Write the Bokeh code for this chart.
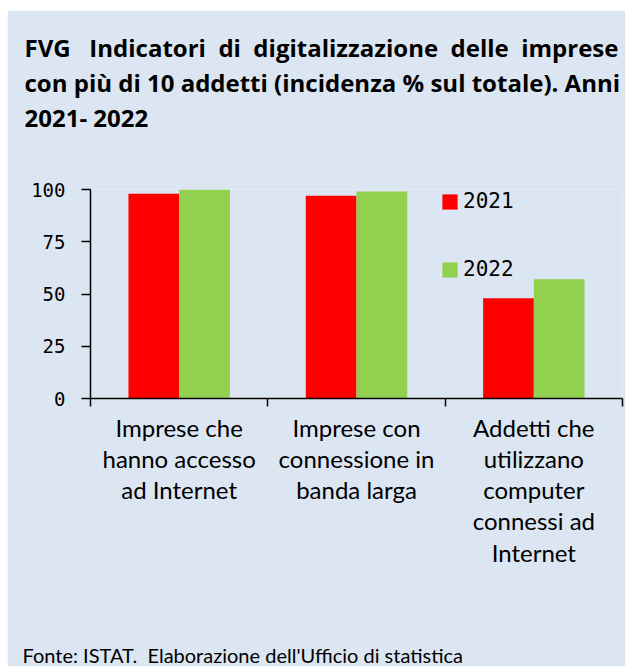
from bokeh.plotting import figure
from bokeh.layouts import column
from bokeh.models import Range1d, FixedTicker, LinearAxis, Legend, LegendItem, Title
from bokeh.embed import file_html
from bokeh.resources import INLINE

# ---- data ----
categories = [
    "Imprese che\nhanno accesso\nad Internet",
    "Imprese con\nconnessione in\nbanda larga",
    "Addetti che\nutilizzano\ncomputer\nconnessi ad\nInternet",
]
years = ["2021", "2022"]
values_2021 = [98, 97, 48]
values_2022 = [100, 99, 57]
y_ticks = [0, 25, 50, 75, 100]
title_line1 = ["FVG", "Indicatori", "di", "digitalizzazione", "delle", "imprese"]
title_line2 = "con più di 10 addetti (incidenza % sul totale). Anni"
title_line3 = "2021- 2022"
source_text = "Fonte: ISTAT.\u00a0 Elaborazione dell'Ufficio di statistica"

# ---- style ----
W, H = 618, 656
BG = "#DCE6F2"
RED = "#FF0000"
GREEN = "#92D050"
TITLE_FONT = "Open Sans"
CAT_FONT = "Lato"
MONO = "DejaVu Sans Mono"
NB = "\u00a0"

p = figure(width=W, height=H, output_backend="svg", toolbar_location=None,
           title=None,
           x_range=Range1d(0, 3), y_range=Range1d(0, 100),
           min_border_left=83, min_border_right=3,
           min_border_top=179, min_border_bottom=268,
           background_fill_color=BG, border_fill_color=BG,
           outline_line_color=None)
p.grid.visible = False

bw = 0.286
x_idx = [i + 0.5 for i in range(len(categories))]
r1 = p.vbar(x=[x - bw / 2 for x in x_idx], top=values_2021, width=bw,
            fill_color=RED, line_color=None)
r2 = p.vbar(x=[x + bw / 2 for x in x_idx], top=values_2022, width=bw,
            fill_color=GREEN, line_color=None)

ya = p.yaxis[0]
ya.ticker = FixedTicker(ticks=y_ticks)
ya.major_tick_in = 0
ya.major_tick_out = 9
ya.minor_tick_line_color = None
ya.axis_line_width = 1.5
ya.major_tick_line_width = 1.5
ya.axis_line_color = "black"
ya.major_tick_line_color = "black"
ya.major_label_text_font = MONO
ya.major_label_text_font_size = "19px"
ya.major_label_text_color = "black"
ya.major_label_standoff = 16

xa = p.xaxis[0]
xa.ticker = FixedTicker(ticks=[0, 1, 2, 3])
xa.major_label_overrides = {0: "", 1: "", 2: "", 3: ""}
xa.major_tick_in = 0
xa.major_tick_out = 8
xa.minor_tick_line_color = None
xa.axis_line_width = 1.5
xa.major_tick_line_width = 1.5
xa.axis_line_color = "black"
xa.major_tick_line_color = "black"

xa2 = LinearAxis(ticker=FixedTicker(ticks=x_idx),
                 major_label_overrides={x: c for x, c in zip(x_idx, categories)},
                 axis_line_color=None, major_tick_line_color=None,
                 minor_tick_line_color=None, major_label_standoff=0,
                 major_label_text_font=CAT_FONT,
                 major_label_text_font_size="24px",
                 major_label_text_color="black",
                 major_label_text_line_height=1.08)
p.add_layout(xa2, "below")

legend = Legend(items=[LegendItem(label=years[0], renderers=[r1]),
                       LegendItem(label=years[1], renderers=[r2])],
                location=(350, 117), padding=0, margin=0, spacing=44,
                glyph_width=19, glyph_height=19, label_standoff=4,
                label_text_font=MONO, label_text_font_size="21px",
                label_text_color="black",
                border_line_color=None, background_fill_alpha=0)
p.add_layout(legend, "center")

# ---- title lines (stacked outward from the frame) ----
tkw = dict(text_font=TITLE_FONT, text_font_style="bold",
           text_font_size="24px", text_color="black", align="left",
           offset=-66)
line1 = (NB + " ").join(title_line1)
line1 = line1.replace("FVG" + NB + " ", "FVG" + NB + NB + " ")
p.add_layout(Title(text=" ", text_font_size="1px", standoff=53), "above")
p.add_layout(Title(text=title_line3, standoff=0, **tkw), "above")
p.add_layout(Title(text=title_line2, standoff=0, **tkw), "above")
p.add_layout(Title(text=line1, standoff=0, **tkw), "above")

# ---- source (spacer then text at the bottom edge) ----
p.add_layout(Title(text=" ", text_font_size="1px", standoff=68), "below")
p.add_layout(Title(text=source_text, text_font=CAT_FONT, text_font_style="normal",
                   text_font_size="20px", text_color="black", align="left",
                   offset=-68, standoff=0, vertical_align="bottom"), "below")

layout = column(p, margin=(10, 0, 0, 7))
open("out.html", "w").write(file_html(layout, INLINE))
